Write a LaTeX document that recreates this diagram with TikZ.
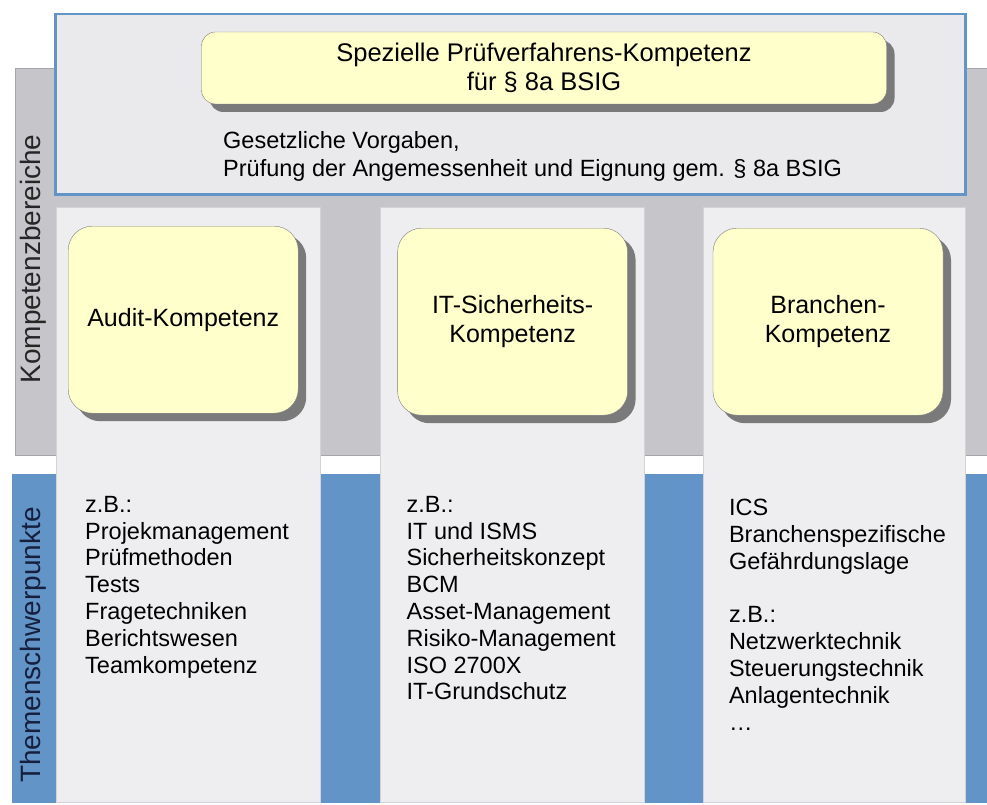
\documentclass[tikz,border=0pt]{standalone}
\usepackage{fontspec}
\setmainfont{Liberation Sans}
\usetikzlibrary{
  shadows,
  positioning,
}
\definecolor{bandgray}{RGB}{197,197,202}
\definecolor{bandline}{RGB}{165,165,172}
\definecolor{bandblue}{RGB}{98,148,200}
\definecolor{panelfill}{RGB}{234,234,237}
\definecolor{colfill}{RGB}{238,238,240}
\definecolor{colline}{RGB}{210,210,215}
\definecolor{topicfill}{RGB}{255,255,204}
\definecolor{topicline}{RGB}{125,125,125}
\definecolor{labelblue}{RGB}{22,32,62}
\tikzset{
  band/.style={
    rectangle,
    anchor=north west,
    inner sep=0pt,
    outer sep=0pt,
  },
  panel/.style={
    rectangle,
    anchor=north west,
    minimum width=910pt,
    minimum height=180pt,
    line width=2.5pt,
    draw=bandblue,
    fill=panelfill
  },
  column/.style={
    rectangle,
    anchor=north west,
    minimum width=264pt,
    minimum height=595pt,
    draw=colline,
    fill=colfill
  },
  topic/.style={
    rectangle,
    rounded corners=24pt,
    minimum width=230pt,
    minimum height=187pt,
    align=center,
    font=\fontsize{25}{29}\selectfont,
    draw=topicline,
    fill=topicfill,
    drop shadow={shadow xshift=8pt, shadow yshift=-8pt, fill=black!52, opacity=1},
  },
  listtext/.style={
    anchor=north west,
    align=left,
    inner sep=0pt,
    font=\fontsize{23.5}{26.8}\selectfont,
  },
  sidelabel/.style={
    rotate=90,
    font=\fontsize{28}{30}\selectfont,
  },
}

\begin{document}
\begin{tikzpicture}[x=1pt, y=-1pt]

  \useasboundingbox[fill=white] (0,0) rectangle (987,805);

  \node[band, fill=bandgray, draw=bandline, minimum width=972pt, minimum height=387pt] (kompetenz_band) at (15,68) {};
  \node[band, fill=bandblue, minimum width=975pt, minimum height=329pt] (themen_band) at (12,474) {};

  \node[sidelabel, text=black!85] (kompetenz_label) at (33,259) {Kompetenzbereiche};
  \node[sidelabel, text=labelblue] (themen_label) at (33,645) {Themenschwerpunkte};

  % oberer Bereich
  \node[panel] (pruef_panel) at (54,13) {};
  \node[topic, rounded corners=14pt, minimum width=685pt, minimum height=72pt,
        font=\fontsize{25.5}{27}\selectfont] (pruef) at (544,68)
        {Spezielle Pr\"ufverfahrens-Kompetenz\\[2pt]f\"ur \S\ 8a BSIG};
  \node[listtext, font=\fontsize{23.5}{28}\selectfont] (vorgaben) at (223,131)
        {Gesetzliche Vorgaben,\\Pr\"ufung der Angemessenheit und Eignung gem. \S\ 8a BSIG};

  % Spalten
  \node[column] (audit_col) at (56,207) {};
  \node[column, right=60pt of audit_col] (it_col) {};
  \node[column, right=58pt of it_col, minimum width=262pt] (branche_col) {};

  \node[topic, below=19pt of audit_col.north, xshift=-5pt] (audit) {Audit-Kompetenz};
  \node[topic, below=21pt of it_col.north] (it) {IT-Sicherheits-\\Kompetenz};
  \node[topic, below=21pt of branche_col.north, xshift=-6pt] (branche) {Branchen-\\Kompetenz};

  \node[listtext, below right=289pt and 29pt of audit_col.north west] (audit_list)
        {z.B.:\\Projekmanagement\\Pr\"ufmethoden\\Tests\\Fragetechniken\\Berichtswesen\\Teamkompetenz};
  \node[listtext, below right=289pt and 26pt of it_col.north west] (it_list)
        {z.B.:\\IT und ISMS\\Sicherheitskonzept\\BCM\\Asset-Management\\Risiko-Management\\ISO 2700X\\IT-Grundschutz};
  \node[listtext, below right=292pt and 26pt of branche_col.north west] (branche_list)
        {ICS\\Branchenspezifische\\Gef\"ahrdungslage\\[26.8pt]z.B.:\\Netzwerktechnik\\Steuerungstechnik\\Anlagentechnik\\\dots};

\end{tikzpicture}
\end{document}
